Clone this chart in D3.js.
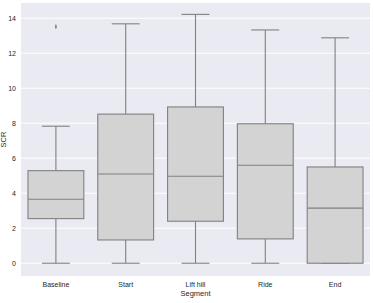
<!DOCTYPE html>
<html>
<head>
<meta charset="utf-8">
<script src="https://cdn.jsdelivr.net/npm/d3@7"></script>
<style>
  body { margin: 0; background: #fff; }
  text { font-family: "Liberation Sans", Arial, sans-serif; fill: #262626; }
</style>
</head>
<body>
<svg width="374" height="303"></svg>
<script>
"use strict";

const segments = ["Baseline", "Start", "Lift hill", "Ride", "End"];
const whiskerLow = [0, 0, 0, 0, 0];
const q1 = [2.55, 1.33, 2.4, 1.39, 0];
const medians = [3.66, 5.1, 4.97, 5.6, 3.15];
const q3 = [5.29, 8.52, 8.93, 7.97, 5.5];
const whiskerHigh = [7.83, 13.68, 14.22, 13.33, 12.88];
const outliers = [[13.52], [], [], [], []];
const yTicks = [0, 2, 4, 6, 8, 10, 12, 14];

const plotLeft = 21, plotRight = 370, plotTop = 3, plotBottom = 276;

function init() {
    const svg = d3.select("svg");

    const xScale = d3.scaleBand()
        .domain(segments)
        .range([plotLeft, plotRight])
        .paddingInner(0)
        .paddingOuter(0);
    const yScale = d3.scaleLinear()
        .domain([-0.73, 14.87])
        .range([plotBottom, plotTop]);

    svg.append("rect")
        .attr("x", plotLeft).attr("y", plotTop)
        .attr("width", plotRight - plotLeft).attr("height", plotBottom - plotTop)
        .attr("fill", "#eaeaf2");

    // grid
    svg.selectAll("line.grid")
        .data(yTicks)
        .join("line")
        .attr("class", "grid")
        .attr("x1", plotLeft).attr("x2", plotRight)
        .attr("y1", d => yScale(d)).attr("y2", d => yScale(d))
        .attr("stroke", "#fff")
        .attr("stroke-width", 1);

    // y axis
    const yAxis = svg.append("g")
        .attr("transform", `translate(${plotLeft},0)`)
        .call(d3.axisLeft(yScale).tickValues(yTicks).tickSize(0).tickPadding(5));
    yAxis.select(".domain").remove();
    yAxis.selectAll("text").attr("font-size", 7).style("font-family", "'Liberation Sans', Arial, sans-serif").attr("fill", "#262626");

    // x axis
    const xAxis = svg.append("g")
        .attr("transform", `translate(0,${plotBottom})`)
        .call(d3.axisBottom(xScale).tickSize(0).tickPadding(6));
    xAxis.select(".domain").remove();
    xAxis.selectAll("text").attr("font-size", 7).style("font-family", "'Liberation Sans', Arial, sans-serif").attr("fill", "#262626");

    svg.append("text")
        .attr("x", (plotLeft + plotRight) / 2)
        .attr("y", 296)
        .attr("text-anchor", "middle")
        .attr("font-size", 7.5)
        .text("Segment");
    svg.append("text")
        .attr("transform", `translate(6,${(plotTop + plotBottom) / 2}) rotate(-90)`)
        .attr("text-anchor", "middle")
        .attr("font-size", 7.5)
        .text("SCR");

    const boxW = xScale.bandwidth() * 0.8;
    const lineColor = "#808080";
    const g = svg.append("g");

    segments.forEach((s, i) => {
        const cx = xScale(s) + xScale.bandwidth() / 2;
        // whiskers
        g.append("line")
            .attr("x1", cx).attr("x2", cx)
            .attr("y1", yScale(q3[i])).attr("y2", yScale(whiskerHigh[i]))
            .attr("stroke", lineColor).attr("stroke-width", 1.1);
        g.append("line")
            .attr("x1", cx).attr("x2", cx)
            .attr("y1", yScale(q1[i])).attr("y2", yScale(whiskerLow[i]))
            .attr("stroke", lineColor).attr("stroke-width", 1.1);
        [whiskerLow[i], whiskerHigh[i]].forEach(v => {
            g.append("line")
                .attr("x1", cx - boxW / 4).attr("x2", cx + boxW / 4)
                .attr("y1", yScale(v)).attr("y2", yScale(v))
                .attr("stroke", lineColor).attr("stroke-width", 1.1);
        });
        // box
        g.append("rect")
            .attr("x", cx - boxW / 2)
            .attr("y", yScale(q3[i]))
            .attr("width", boxW)
            .attr("height", yScale(q1[i]) - yScale(q3[i]))
            .attr("fill", "#d3d3d3")
            .attr("stroke", lineColor)
            .attr("stroke-width", 1.1);
        g.append("line")
            .attr("x1", cx - boxW / 2).attr("x2", cx + boxW / 2)
            .attr("y1", yScale(medians[i])).attr("y2", yScale(medians[i]))
            .attr("stroke", lineColor).attr("stroke-width", 1.1);
        // outliers
        outliers[i].forEach(v => {
            g.append("path")
                .attr("d", d3.symbol(d3.symbolDiamond, 8)())
                .attr("transform", `translate(${cx},${yScale(v)}) scale(0.7,1.1)`)
                .attr("fill", lineColor);
        });
    });
}

init();
</script>
</body>
</html>
